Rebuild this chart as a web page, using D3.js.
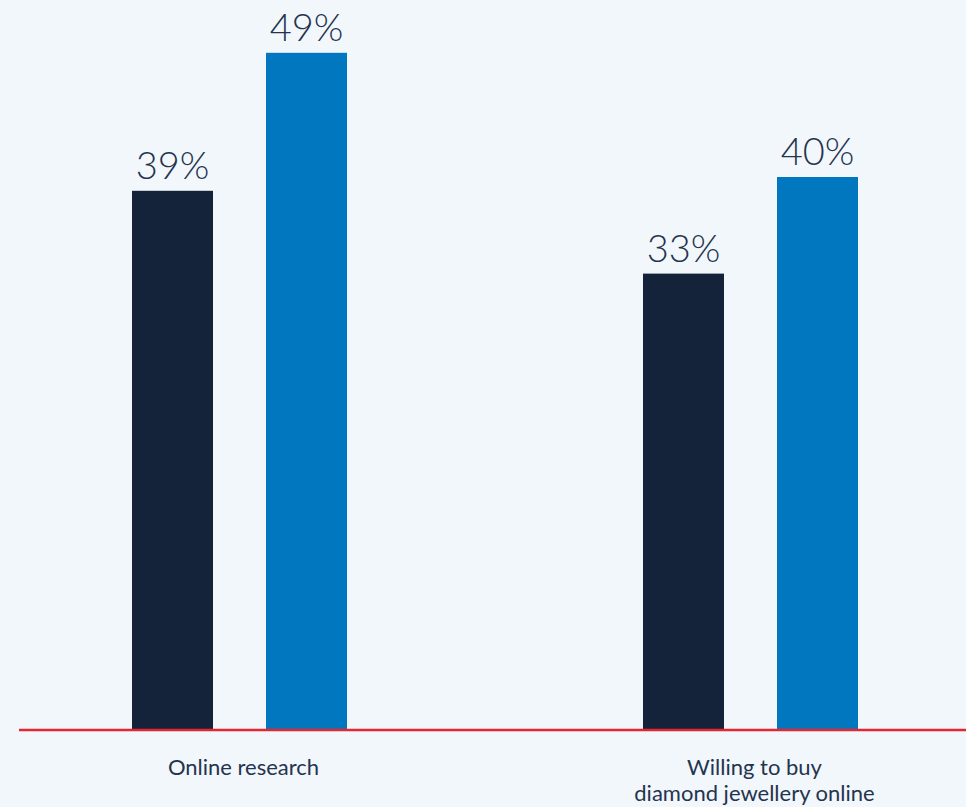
<!DOCTYPE html>
<html>
<head>
<meta charset="utf-8">
<script src="https://cdn.jsdelivr.net/npm/d3@7"></script>
<style>
  html, body { margin: 0; padding: 0; background: #f2f7fc; }
  svg { display: block; }
  .value { font-family: "Lato", sans-serif; font-weight: 300; font-size: 38px; fill: #24344e; }
  .cat { font-family: "Lato", sans-serif; font-size: 22px; fill: #24344e; }
</style>
</head>
<body>
<div id="chart"></div>
<script>
  const categories = ["Online research", "Willing to buy\ndiamond jewellery online"];
  const series = ["previous", "current"];
  const values = [
    [39, 49],
    [33, 40]
  ];
  const colors = ["#14233a", "#0077bf"];

  const width = 966;
  const height = 807;
  const baseline = 729;

  const svg = d3.select('#chart').append('svg')
    .attr('width', width)
    .attr('height', height);

  svg.append('rect')
    .attr('width', width)
    .attr('height', height)
    .attr('fill', '#f2f7fc');

  // groups centred at ~239 and ~750
  const x = d3.scaleBand()
    .domain(categories)
    .range([-16, 1006]);

  const xInner = d3.scaleBand()
    .domain(series)
    .range([148, 363])
    .paddingInner(0.3955)
    .paddingOuter(0);

  const y = d3.scaleLinear()
    .domain([0, 50])
    .range([baseline, baseline - 690]);

  const groups = svg.selectAll('g.group')
    .data(categories)
    .enter().append('g')
    .attr('class', 'group')
    .attr('transform', d => `translate(${x(d)},0)`);

  groups.selectAll('rect.bar')
    .data((d, i) => values[i].map((v, j) => ({ key: series[j], value: v, idx: j })))
    .enter().append('rect')
    .attr('class', 'bar')
    .attr('x', d => xInner(d.key))
    .attr('y', d => y(d.value))
    .attr('width', xInner.bandwidth())
    .attr('height', d => y(0) - y(d.value))
    .attr('fill', d => colors[d.idx]);

  groups.selectAll('text.value')
    .data((d, i) => values[i].map((v, j) => ({ key: series[j], value: v })))
    .enter().append('text')
    .attr('class', 'value')
    .attr('x', d => xInner(d.key) + xInner.bandwidth() / 2)
    .attr('y', d => y(d.value) - 12)
    .attr('text-anchor', 'middle')
    .text(d => d.value + '%');

  // red baseline
  svg.append('line')
    .attr('x1', 19)
    .attr('x2', width)
    .attr('y1', y(0) + 1)
    .attr('y2', y(0) + 1)
    .attr('stroke', '#e52630')
    .attr('stroke-width', 2.5);

  // category labels
  const labels = groups.append('text')
    .attr('class', 'cat')
    .attr('text-anchor', 'middle')
    .attr('y', 775);

  labels.selectAll('tspan')
    .data(d => d.split('\n'))
    .enter().append('tspan')
    .attr('x', x.bandwidth() / 2 + 4)
    .attr('dy', (d, i) => i === 0 ? 0 : 26)
    .text(d => d);
</script>
</body>
</html>
